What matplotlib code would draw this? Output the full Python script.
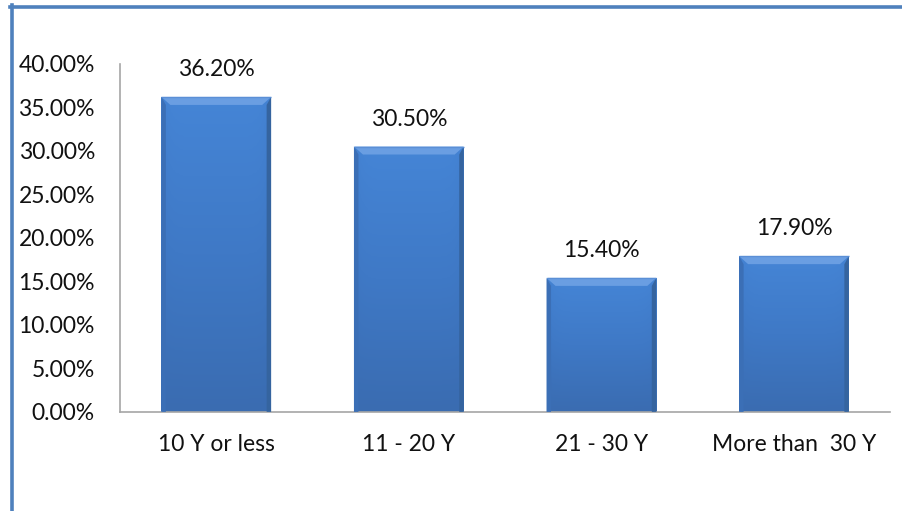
import numpy as np
import matplotlib
matplotlib.use('Agg')
import matplotlib.pyplot as plt
from matplotlib.colors import LinearSegmentedColormap
from matplotlib.patches import Polygon
from matplotlib.lines import Line2D

# years-of-service groups and share of respondents
categories = ['10 Y or less', '11 - 20 Y', '21 - 30 Y', 'More than  30 Y']
shares = [0.362, 0.305, 0.154, 0.179]
yticks = [0.0, 0.05, 0.10, 0.15, 0.20, 0.25, 0.30, 0.35, 0.40]

plt.rcParams['font.family'] = ['Lato', 'DejaVu Sans']

fig = plt.figure(figsize=(9.02, 5.11), dpi=100)
ax = fig.add_axes([0.133, 0.194, 0.854, 0.681])

x = np.arange(len(categories))
width = 0.57
bars = ax.bar(x, shares, width=width, color='#4280d0', edgecolor='none', zorder=2)

ax.set_xlim(-0.5, len(categories) - 0.5)
ax.set_ylim(0, 0.40)

# body gradient: lighter at top, darker at the foot, darker sides
body = LinearSegmentedColormap.from_list('body', ['#3a6cb1', '#3f79c6', '#4585d6'])
grad = np.linspace(0, 1, 256).reshape(-1, 1)
side = 1 - 0.2 * np.abs(np.linspace(-1, 1, 64)) ** 8
img = grad * side[None, :]

# bevel sizes in data units (about 9 px wide, 8 px tall)
bx = 9 / 192.5
by = 8 / 870.0
for b in bars:
    x0, y0 = b.get_x(), b.get_y()
    x1, y1 = x0 + b.get_width(), y0 + b.get_height()
    im = ax.imshow(img, cmap=body, origin='lower', aspect='auto',
                   extent=[x0, x1, y0, y1], zorder=2, vmin=0, vmax=1)
    im.set_clip_path(b)
    # top bevel (highlight)
    ax.add_patch(Polygon([[x0, y1], [x1, y1], [x1 - bx, y1 - by], [x0 + bx, y1 - by]],
                         closed=True, facecolor='#6a9ee2', edgecolor='none', zorder=3))
    # side bevels
    ax.add_patch(Polygon([[x0, y1], [x0 + bx * 0.5, y1 - by], [x0 + bx * 0.5, y0], [x0, y0]],
                         closed=True, facecolor='#3b6fb6', edgecolor='none', zorder=3))
    ax.add_patch(Polygon([[x1, y1], [x1 - bx * 0.5, y1 - by], [x1 - bx * 0.5, y0], [x1, y0]],
                         closed=True, facecolor='#35649f', edgecolor='none', zorder=3))
    ax.plot([x0, x1], [y1, y1], color='#5b8fd6', lw=1, zorder=4, solid_capstyle='butt')

for xi, v in zip(x, shares):
    ax.annotate('{:.2f}%'.format(v * 100), (xi, v), xytext=(0, 15),
                textcoords='offset points', ha='center', va='baseline',
                fontsize=16.5, color='#111111')

ax.set_yticks(yticks)
ax.set_yticklabels(['{:.2f}%'.format(t * 100) for t in yticks])
ax.set_xticks(x)
ax.set_xticklabels(categories)
ax.tick_params(axis='y', length=0, pad=18, labelsize=16.5, labelcolor='#111111')
ax.tick_params(axis='x', length=0, pad=16, labelsize=16.5, labelcolor='#111111')

for s in ['top', 'right']:
    ax.spines[s].set_visible(False)
for s in ['left', 'bottom']:
    ax.spines[s].set_color('#a6a6a6')
    ax.spines[s].set_linewidth(1.2)

# frame lines along the top and left of the chart area
fig.add_artist(Line2D([0.011, 1.0], [0.987, 0.987], color='#4f81bd', lw=2.6,
                      transform=fig.transFigure))
fig.add_artist(Line2D([0.0135, 0.0135], [0.0, 0.99], color='#4f81bd', lw=2.6,
                      transform=fig.transFigure))

fig.savefig('out.png', dpi=100)
